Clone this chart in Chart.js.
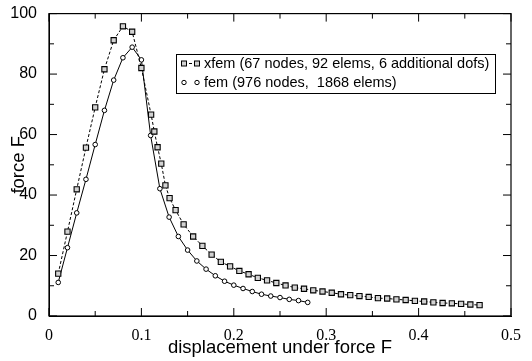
<!DOCTYPE html>
<html>
<head>
    <title>Force vs displacement</title>
    <script src="https://cdn.jsdelivr.net/npm/chart.js"></script>
    <style>
        body { margin: 0; background: #fff; }
        #wrap { width: 532px; height: 361px; }
    </style>
</head>
<body>
    <div id="wrap">
        <canvas id="forceChart" width="532" height="361"></canvas>
    </div>

    <script>
        // xfem run (squares, dashed)
        var xfemX = [0.01, 0.02, 0.03, 0.04, 0.05, 0.06, 0.07, 0.08, 0.09, 0.10,
            0.1105, 0.114, 0.1175, 0.1215, 0.126, 0.1305, 0.137, 0.1457, 0.156, 0.166,
            0.176, 0.186, 0.196, 0.206, 0.216, 0.226, 0.236, 0.246, 0.256, 0.266,
            0.276, 0.286, 0.296, 0.306, 0.316, 0.326, 0.336, 0.346, 0.356, 0.366,
            0.376, 0.386, 0.396, 0.406, 0.416, 0.426, 0.436, 0.446, 0.456, 0.466];
        var xfemF = [14.0, 27.9, 41.9, 55.7, 69.0, 81.6, 91.2, 95.8, 94.0, 82.0,
            66.6, 61.0, 55.8, 50.4, 43.2, 39.0, 35.0, 30.3, 26.3, 23.2,
            20.3, 17.9, 16.4, 14.9, 13.8, 12.6, 11.8, 10.9, 10.1, 9.4,
            9.0, 8.5, 8.1, 7.7, 7.2, 6.9, 6.6, 6.3, 5.9, 5.8,
            5.5, 5.3, 5.0, 4.8, 4.5, 4.3, 4.2, 4.0, 3.8, 3.6];

        // fem run (circles, solid)
        var femX = [0.01, 0.02, 0.03, 0.04, 0.05, 0.06, 0.07, 0.08, 0.09, 0.10,
            0.11, 0.12, 0.13, 0.14, 0.15, 0.16, 0.17, 0.18, 0.19, 0.20,
            0.21, 0.22, 0.23, 0.24, 0.25, 0.26, 0.27, 0.28];
        var femF = [11.1, 22.6, 34.1, 45.2, 56.7, 68.0, 78.0, 85.4, 88.9, 84.7,
            59.7, 42.1, 32.7, 26.3, 21.8, 18.2, 15.5, 13.3, 11.5, 10.2,
            9.1, 8.1, 7.2, 6.6, 6.1, 5.5, 5.1, 4.5];

        var seriesNames = ["xfem (67 nodes, 92 elems, 6 additional dofs)", "fem (976 nodes,  1868 elems)"];
        var xTicks = [0, 0.1, 0.2, 0.3, 0.4, 0.5];
        var yTicks = [0, 20, 40, 60, 80, 100];

        function toPoints(xs, ys) {
            return xs.map(function (x, i) { return { x: x, y: ys[i] }; });
        }

        Chart.defaults.color = '#000';
        Chart.defaults.font.family = '"Liberation Sans", Arial, sans-serif';

        var squareFill = '#d2d2d2';

        // inward ticks on all four sides plus the closed frame
        var frameTicks = {
            id: 'frameTicks',
            afterDatasetsDraw: function (chart) {
                var ctx = chart.ctx, a = chart.chartArea;
                var xs = chart.scales.x, ys = chart.scales.y;
                ctx.save();
                ctx.strokeStyle = '#000';
                ctx.lineWidth = 1.2;
                ctx.strokeRect(a.left, a.top, a.right - a.left, a.bottom - a.top);
                ctx.lineWidth = 1;
                ctx.beginPath();
                for (var i = 0; i <= 10; i++) {
                    var px = xs.getPixelForValue(i * 0.05);
                    var len = i % 2 ? 5 : 8;
                    ctx.moveTo(px, a.bottom); ctx.lineTo(px, a.bottom - len);
                    ctx.moveTo(px, a.top); ctx.lineTo(px, a.top + len);
                }
                for (var j = 0; j <= 10; j++) {
                    var py = ys.getPixelForValue(j * 10);
                    var l2 = j % 2 ? 5 : 8;
                    ctx.moveTo(a.left, py); ctx.lineTo(a.left + l2, py);
                    ctx.moveTo(a.right, py); ctx.lineTo(a.right - l2, py);
                }
                ctx.stroke();
                ctx.restore();
            },
            afterDraw: function (chart) {
                // boxed legend inside the plot
                var ctx = chart.ctx;
                var bx = 176, by = 54, bw = 319, bh = 39;
                ctx.save();
                ctx.fillStyle = '#fff';
                ctx.fillRect(bx, by, bw, bh);
                ctx.strokeStyle = '#000';
                ctx.lineWidth = 1;
                ctx.strokeRect(bx + 0.5, by + 0.5, bw, bh);

                var rows = [63.5, 82.5];
                // xfem symbol
                ctx.setLineDash([3, 2]);
                ctx.beginPath(); ctx.moveTo(184, rows[0]); ctx.lineTo(197, rows[0]); ctx.stroke();
                ctx.setLineDash([]);
                [184, 197].forEach(function (cx) {
                    ctx.fillStyle = squareFill;
                    ctx.fillRect(cx - 2.5, rows[0] - 2.5, 5, 5);
                    ctx.strokeRect(cx - 2.5, rows[0] - 2.5, 5, 5);
                });
                // fem symbol
                [184, 197].forEach(function (cx) {
                    ctx.beginPath();
                    ctx.arc(cx, rows[1], 2.2, 0, Math.PI * 2);
                    ctx.fillStyle = '#fff';
                    ctx.fill();
                    ctx.stroke();
                });

                ctx.fillStyle = '#000';
                ctx.font = '14.5px "Liberation Sans", Arial, sans-serif';
                ctx.textBaseline = 'middle';
                ctx.fillText(seriesNames[0], 204, rows[0]);
                ctx.fillText(seriesNames[1], 204, rows[1]);
                ctx.restore();
            }
        };

        new Chart("forceChart", {
            type: "scatter",
            data: {
                datasets: [{
                    label: seriesNames[0],
                    data: toPoints(xfemX, xfemF),
                    showLine: true,
                    borderColor: '#000',
                    borderWidth: 1,
                    borderDash: [3, 2],
                    pointStyle: 'rect',
                    pointRadius: 3.7,
                    pointBorderWidth: 1.1,
                    pointBorderColor: '#000',
                    pointBackgroundColor: squareFill
                }, {
                    label: seriesNames[1],
                    data: toPoints(femX, femF),
                    showLine: true,
                    borderColor: '#000',
                    borderWidth: 1,
                    pointStyle: 'circle',
                    pointRadius: 2.3,
                    pointBorderWidth: 1,
                    pointBorderColor: '#000',
                    pointBackgroundColor: '#fff'
                }]
            },
            options: {
                responsive: false,
                animation: false,
                devicePixelRatio: 1,
                layout: { padding: { left: 0, right: 21, top: 9, bottom: 0 } },
                plugins: {
                    legend: { display: false },
                    tooltip: { enabled: false }
                },
                scales: {
                    x: {
                        type: 'linear',
                        min: 0,
                        max: 0.5,
                        afterFit: function (s) { s.height = 45; },
                        afterBuildTicks: function (s) {
                            s.ticks = xTicks.map(function (v) { return { value: v }; });
                        },
                        grid: { display: false },
                        border: { display: true, color: '#000', width: 1 },
                        ticks: {
                            padding: 2,
                            maxRotation: 0,
                            font: { family: '"Liberation Serif", "Times New Roman", serif', size: 16 },
                            callback: function (v) { return v === 0 ? '0' : v.toFixed(1); }
                        },
                        title: {
                            display: true,
                            text: 'displacement under force F',
                            font: { size: 18.5 },
                            padding: { top: 0, bottom: 2 }
                        }
                    },
                    y: {
                        type: 'linear',
                        min: 0,
                        max: 100,
                        afterFit: function (s) { s.width = 49; },
                        afterBuildTicks: function (s) {
                            s.ticks = yTicks.map(function (v) { return { value: v }; });
                        },
                        grid: { display: false },
                        border: { display: true, color: '#000', width: 1 },
                        ticks: {
                            padding: 4,
                            font: { size: 16 }
                        },
                        title: {
                            display: true,
                            text: 'force F',
                            font: { size: 18.5 },
                            padding: { top: 8, bottom: 0 }
                        }
                    }
                }
            },
            plugins: [frameTicks]
        });
    </script>
</body>
</html>
